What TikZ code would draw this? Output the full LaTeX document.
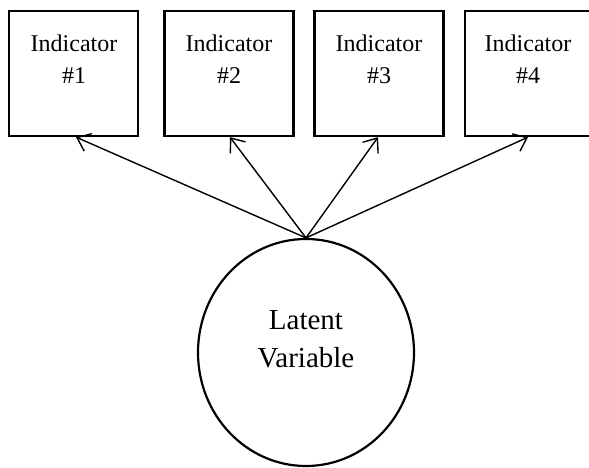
\documentclass[tikz,border=0pt]{standalone}
\usepackage{fontspec}
\setmainfont{Liberation Serif}
\usetikzlibrary{shapes.geometric,arrows.meta,calc}
\tikzset{
  indbox/.style={draw=black, line width=2.3pt, minimum width=129pt, minimum height=125pt, inner sep=0pt},
  indtext/.style={align=center, font=\fontsize{24}{32}\selectfont, inner sep=0pt},
  latent/.style={ellipse, draw=black, line width=2.2pt, minimum width=216pt, minimum height=227pt, inner sep=0pt},
  lattext/.style={align=center, font=\fontsize{29}{38}\selectfont, inner sep=0pt},
  loading/.style={line width=1.4pt, -{Straight Barb[length=12pt,width=19pt,line width=1.4pt]}}
}
\begin{document}
\begin{tikzpicture}[x=1pt,y=1pt]
\useasboundingbox (0,0) rectangle (589,468);
\node[indbox] (b1) at (73.5,394.5) {};
\node[indbox] (b2) at (229,394.5) {};
\node[indbox] (b3) at (379,394.5) {};
\node[indbox] (b4) at (529.5,394.5) {};
\node[indtext] (t1) at (74,409) {Indicator\\\#1};
\node[indtext] (t2) at (229,409) {Indicator\\\#2};
\node[indtext] (t3) at (379,409) {Indicator\\\#3};
\node[indtext] (t4) at (528,409) {Indicator\\\#4};
\node[latent] (lv) at (306,115.5) {};
\node[lattext] (lt) at (306,129) {Latent\\Variable};
\draw[loading] (lv.north) -- ($(b1.south)+(2.5,0)$);
\draw[loading] (lv.north) -- ($(b2.south)+(1,0)$);
\draw[loading] (lv.north) -- ($(b3.south)+(-1,0)$);
\draw[loading] (lv.north) -- ($(b4.south)+(-1.5,0)$);
\end{tikzpicture}
\end{document}
